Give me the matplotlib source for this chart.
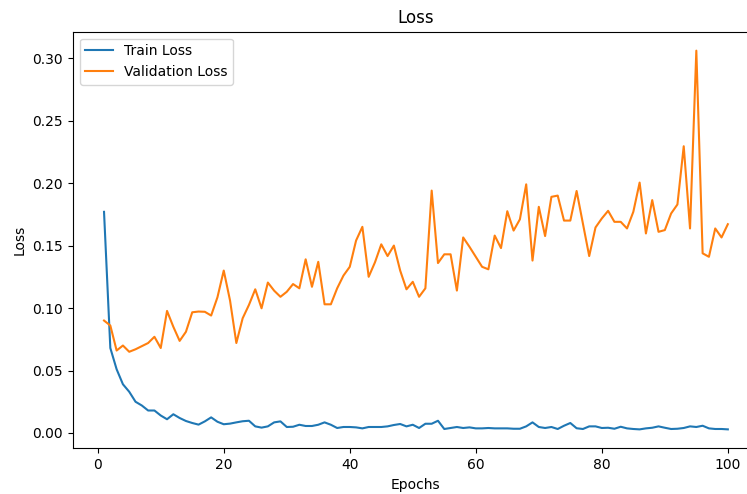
import numpy as np
import matplotlib
matplotlib.use("Agg")
import matplotlib.pyplot as plt

# Loss values per epoch
epochs = np.arange(1, 101)

train_loss = [
    0.177, 0.068, 0.051, 0.039, 0.033, 0.025, 0.022, 0.018, 0.018, 0.014,
    0.011, 0.015, 0.012, 0.0096, 0.008, 0.0067, 0.0093, 0.0125, 0.009, 0.007,
    0.0075, 0.0085, 0.0094, 0.0098, 0.0053, 0.0043, 0.0053, 0.0085, 0.0093, 0.0048,
    0.005, 0.0066, 0.0056, 0.0056, 0.0066, 0.0085, 0.0066, 0.004, 0.0048, 0.0048,
    0.0045, 0.0037, 0.0048, 0.0048, 0.0048, 0.0053, 0.0064, 0.0072, 0.0053, 0.0066,
    0.004, 0.0074, 0.0074, 0.0098, 0.0032, 0.004, 0.0048, 0.004, 0.0045, 0.0037,
    0.0037, 0.004, 0.0037, 0.0037, 0.0037, 0.0034, 0.0034, 0.0053, 0.0085, 0.0048,
    0.004, 0.0048, 0.0032, 0.0058, 0.008, 0.0038, 0.0032, 0.0053, 0.0053, 0.004,
    0.0042, 0.0034, 0.005, 0.0037, 0.0032, 0.0029, 0.0037, 0.0042, 0.0053, 0.0042,
    0.0032, 0.0034, 0.004, 0.0053, 0.0048, 0.0058, 0.0037, 0.0032, 0.0032, 0.0029,
]

val_loss = [
    0.090, 0.086, 0.066, 0.070, 0.065, 0.067, 0.0695, 0.072, 0.077, 0.068,
    0.0977, 0.085, 0.0737, 0.081, 0.0966, 0.0972, 0.097, 0.094, 0.1086, 0.130,
    0.106, 0.072, 0.0918, 0.1025, 0.115, 0.0998, 0.1204, 0.1139, 0.109, 0.113,
    0.1192, 0.1158, 0.139, 0.117, 0.137, 0.103, 0.103, 0.1158, 0.126, 0.133,
    0.154, 0.165, 0.125, 0.1366, 0.151, 0.1416, 0.150, 0.130, 0.115, 0.121,
    0.109, 0.1158, 0.194, 0.136, 0.143, 0.143, 0.114, 0.1565, 0.149, 0.141,
    0.133, 0.131, 0.158, 0.148, 0.1775, 0.162, 0.171, 0.199, 0.138, 0.181,
    0.1576, 0.189, 0.190, 0.170, 0.170, 0.1937, 0.1676, 0.1416, 0.1645, 0.1717,
    0.1778, 0.169, 0.169, 0.1637, 0.177, 0.2004, 0.1597, 0.1864, 0.161, 0.1624,
    0.1757, 0.1829, 0.2295, 0.1637, 0.306, 0.1438, 0.141, 0.1637, 0.1565, 0.1671,
]

fig = plt.figure(figsize=(7.47, 4.94), dpi=100)
# the reference is cropped on the right, so the axes runs past the figure edge
ax = fig.add_axes([0.0975, 0.0925, 0.9186, 0.8433])

ax.plot(epochs, train_loss, label='Train Loss')
ax.plot(epochs, val_loss, label='Validation Loss')

ax.set_title('Loss')
ax.set_xlabel('Epochs')
ax.set_ylabel('Loss')
ax.legend(loc='upper left')

fig.savefig('out.png', dpi=100)
